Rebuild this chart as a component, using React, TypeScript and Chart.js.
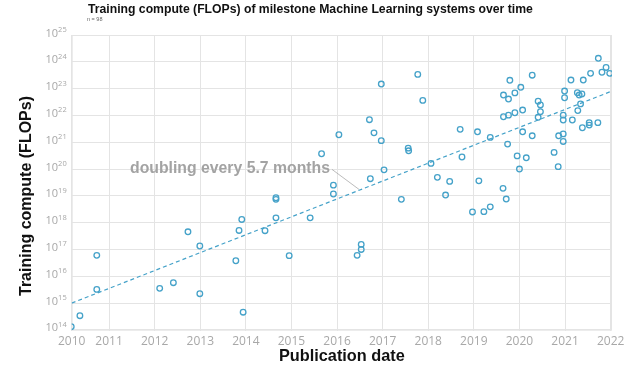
import React, { useEffect, useRef } from 'react';
import { Chart, registerables } from 'chart.js';
Chart.register(...registerables);

// Publication date (decimal years) of each system
const years = [
  2010.17, 2010.36, 2010.73, 2010.73, 2012.11, 2012.41, 2012.73, 2012.99, 2012.99, 2013.78,
  2013.85, 2013.91, 2013.94, 2014.42, 2014.66, 2014.66, 2014.66, 2014.95, 2015.41, 2015.66,
  2015.92, 2015.92, 2016.04, 2016.44, 2016.53, 2016.53, 2016.71, 2016.73, 2016.81, 2016.97,
  2016.97, 2017.03, 2017.41, 2017.56, 2017.57, 2017.77, 2017.88, 2018.06, 2018.2, 2018.38,
  2018.47, 2018.7, 2018.74, 2018.97, 2019.08, 2019.11, 2019.22, 2019.36, 2019.36, 2019.64,
  2019.65, 2019.65, 2019.71, 2019.74, 2019.76, 2019.76, 2019.79, 2019.9, 2019.9, 2019.95,
  2020.0, 2020.03, 2020.07, 2020.07, 2020.15, 2020.28, 2020.28, 2020.41, 2020.41, 2020.46,
  2020.46, 2020.76, 2020.85, 2020.86, 2020.96, 2020.96, 2020.96, 2020.96, 2020.99, 2020.99,
  2021.13, 2021.16, 2021.27, 2021.28, 2021.31, 2021.34, 2021.37, 2021.38, 2021.4, 2021.53,
  2021.53, 2021.56, 2021.72, 2021.73, 2021.81, 2021.9, 2021.98,
];
// log10 of training compute (FLOPs)
const logFlops = [
  14.12, 14.53, 16.78, 15.51, 15.55, 15.76, 17.66, 17.13, 15.35, 16.58,
  17.71, 18.12, 14.66, 17.7, 18.93, 18.87, 18.18, 16.77, 18.18, 20.57,
  19.4, 19.07, 21.28, 16.78, 17.19, 17.0, 21.84, 19.64, 21.35, 21.06,
  23.17, 19.97, 18.87, 20.78, 20.68, 23.53, 22.56, 20.21, 19.69, 19.03,
  19.54, 21.48, 20.45, 18.4, 21.39, 19.56, 18.41, 21.18, 18.59, 19.28,
  21.95, 22.76, 18.88, 20.93, 22.01, 22.61, 23.31, 22.1, 22.84, 20.49,
  20.0, 23.05, 22.2, 21.39, 20.42, 21.24, 23.5, 22.53, 21.93, 22.39,
  22.14, 20.62, 20.09, 21.24, 21.31, 21.03, 21.83, 22.01, 22.66, 22.91,
  23.32, 21.83, 22.85, 22.18, 22.76, 22.43, 22.8, 21.54, 23.32, 21.64,
  21.73, 23.57, 21.73, 24.13, 23.61, 23.79, 23.57,
];
// Trend line (doubling every 5.7 months)
const trendYears = [2010.18, 2022.03];
const trendLog = [15.0, 22.91];

const xTickYears = [2010, 2011, 2012, 2013, 2014, 2015, 2016, 2017, 2018, 2019, 2020, 2021, 2022];
const yTickExps = [14, 15, 16, 17, 18, 19, 20, 21, 22, 23, 24, 25];
const xMin = 2010.18;
const xMax = 2022.03;
const yMinExp = 13.97;
const yMaxExp = 25;

const titleText = 'Training compute (FLOPs) of milestone Machine Learning systems over time';
const subtitleText = 'n = 98';
const yTitle = 'Training compute (FLOPs)';
const xTitle = 'Publication date';
const annotationText = 'doubling every 5.7 months';
const annotationYear = 2016.48;

const pointColor = '#45a2c9';
const gridColor = '#e4e4e4';
const tickColor = '#a8a8a8';

function fitFont(ctx: CanvasRenderingContext2D, text: string, width: number, weight: string, family: string) {
  ctx.font = `${weight} 20px ${family}`;
  const w = ctx.measureText(text).width;
  const size = (20 * width) / w;
  return `${weight} ${size.toFixed(2)}px ${family}`;
}

const textPlugin = {
  id: 'texts',
  beforeDatasetsDraw(chart: any) {
    const { ctx, chartArea } = chart;
    ctx.save();
    ctx.strokeStyle = gridColor;
    ctx.lineWidth = 1;
    ctx.strokeRect(chartArea.left + 0.5, chartArea.top + 0.5, chartArea.right - chartArea.left - 1, chartArea.bottom - chartArea.top - 1);
    ctx.restore();
  },
  afterDraw(chart: any) {
    const { ctx, chartArea } = chart;
    const xs = chart.scales.x;
    const ys = chart.scales.y;
    const fam = '"Liberation Sans", Arial, sans-serif';
    ctx.save();

    // y tick labels with superscript exponents
    for (const e of yTickExps) {
      const py = ys.getPixelForValue(Math.pow(10, e));
      ctx.font = '7.5px "Open Sans", sans-serif';
      const expStr = String(e);
      const we = ctx.measureText(expStr).width;
      const right = chartArea.left - 5;
      ctx.fillStyle = tickColor;
      ctx.textAlign = 'left';
      ctx.textBaseline = 'alphabetic';
      ctx.fillText(expStr, right - we, py - 3);
      ctx.font = '11px "Open Sans", sans-serif';
      ctx.textAlign = 'right';
      ctx.fillText('10', right - we, py + 1.5);
    }

    // title
    ctx.fillStyle = '#111';
    ctx.textAlign = 'left';
    ctx.textBaseline = 'alphabetic';
    ctx.font = fitFont(ctx, titleText, 445, 'bold', fam);
    ctx.fillText(titleText, 88, 12.5);
    ctx.fillStyle = '#666';
    ctx.font = `5.5px ${fam}`;
    ctx.fillText(subtitleText, 87, 21);

    // axis titles
    ctx.fillStyle = '#111';
    ctx.font = fitFont(ctx, xTitle, 126, 'bold', fam);
    ctx.textAlign = 'center';
    ctx.fillText(xTitle, (chartArea.left + chartArea.right) / 2, 361);
    ctx.save();
    ctx.translate(31, 196);
    ctx.rotate(-Math.PI / 2);
    ctx.font = fitFont(ctx, yTitle, 200, 'bold', fam);
    ctx.fillText(yTitle, 0, 0);
    ctx.restore();

    // annotation: connector to the trend line
    const slope = (trendLog[1] - trendLog[0]) / (trendYears[1] - trendYears[0]);
    const aLog = trendLog[0] + slope * (annotationYear - trendYears[0]);
    const ax = xs.getPixelForValue(annotationYear);
    const ay = ys.getPixelForValue(Math.pow(10, aLog));
    ctx.strokeStyle = '#aaaaaa';
    ctx.lineWidth = 0.8;
    ctx.beginPath();
    ctx.moveTo(ax, ay - 1);
    ctx.lineTo(ax - 27, ay - 21);
    ctx.stroke();
    ctx.fillStyle = '#a3a3a3';
    ctx.font = fitFont(ctx, annotationText, 200, 'bold', fam);
    ctx.textAlign = 'right';
    ctx.textBaseline = 'middle';
    ctx.fillText(annotationText, ax - 29, ay - 22);

    ctx.restore();
  },
};

export default function App() {
  const canvasRef = useRef<HTMLCanvasElement | null>(null);

  useEffect(() => {
    if (!canvasRef.current) return;
    const points = years.map((x, i) => ({ x, y: Math.pow(10, logFlops[i]) }));
    const trend = trendYears.map((x, i) => ({ x, y: Math.pow(10, trendLog[i]) }));
    const chart = new Chart(canvasRef.current, {
      type: 'scatter',
      data: {
        datasets: [
          {
            type: 'line',
            data: trend,
            borderColor: pointColor,
            borderWidth: 1.2,
            borderDash: [4, 3],
            pointRadius: 0,
            fill: false,
            clip: 0,
          } as any,
          {
            data: points,
            pointRadius: 2.8,
            pointHoverRadius: 2.8,
            borderWidth: 1.3,
            borderColor: pointColor,
            backgroundColor: 'rgba(0,0,0,0)',
            clip: 0,
          } as any,
        ],
      },
      options: {
        responsive: false,
        animation: false,
        events: [],
        layout: { padding: { left: 0, right: 27, top: 35, bottom: 0 } },
        plugins: { legend: { display: false }, tooltip: { enabled: false }, title: { display: false } },
        scales: {
          x: {
            type: 'linear',
            min: xMin,
            max: xMax,
            afterBuildTicks: (s: any) => {
              s.ticks = xTickYears.map((v) => ({ value: v < xMin ? xMin : v }));
            },
            afterFit: (s: any) => {
              s.height = 35.3;
            },
            ticks: {
              autoSkip: false,
              maxRotation: 0,
              padding: 4,
              color: tickColor,
              font: { family: '"Open Sans", sans-serif', size: 12 },
              callback: (v: any) => String(Math.round(Number(v))),
            },
            grid: { color: gridColor, drawTicks: false },
            border: { display: false },
          },
          y: {
            type: 'logarithmic',
            min: Math.pow(10, yMinExp),
            max: Math.pow(10, yMaxExp),
            afterBuildTicks: (s: any) => {
              s.ticks = yTickExps.map((e) => ({ value: Math.pow(10, e) }));
            },
            afterFit: (s: any) => {
              s.width = 71.7;
            },
            ticks: { display: false },
            grid: { color: gridColor, drawTicks: false },
            border: { display: false },
          },
        },
      } as any,
      plugins: [textPlugin],
    });
    return () => chart.destroy();
  }, []);

  return (
    <div style={{ position: 'absolute', left: 0, top: 0, width: 639, height: 366, background: '#fff' }}>
      <canvas ref={canvasRef} width={639} height={366} style={{ width: 639, height: 366 }} />
    </div>
  );
}
